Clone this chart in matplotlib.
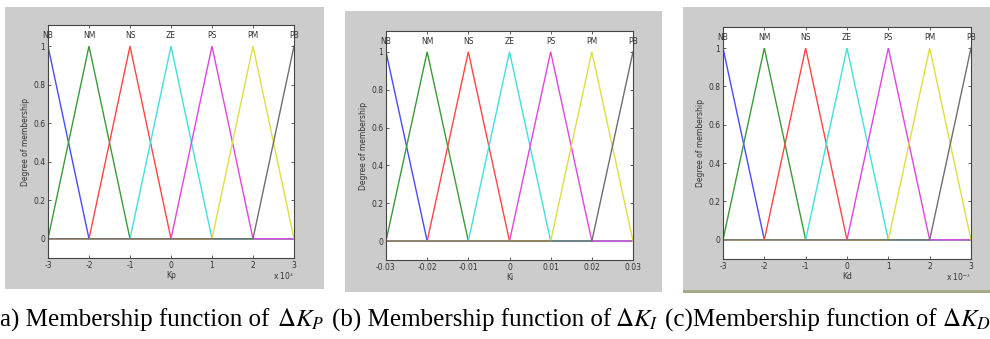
import matplotlib
matplotlib.use('Agg')
import matplotlib.pyplot as plt
from matplotlib.patches import Rectangle
import numpy as np

# membership function names and peak positions for each gain
mf_names = ['NB', 'NM', 'NS', 'ZE', 'PS', 'PM', 'PB']
kp_peaks = [-3, -2, -1, 0, 1, 2, 3]            # x 10^4
ki_peaks = [-0.03, -0.02, -0.01, 0, 0.01, 0.02, 0.03]
kd_peaks = [-3, -2, -1, 0, 1, 2, 3]            # x 10^-3

kp_ticks = ['-3', '-2', '-1', '0', '1', '2', '3']
ki_ticks = ['-0.03', '-0.02', '-0.01', '0', '0.01', '0.02', '0.03']
kd_ticks = ['-3', '-2', '-1', '0', '1', '2', '3']

mf_colors = ['#4a4aff', '#3a9a3a', '#ff4545', '#45dede',
             '#e045e0', '#dede45', '#6e6e6e']

W, H = 990, 339
fig = plt.figure(figsize=(W / 100, H / 100), dpi=100)
fig.patch.set_facecolor('white')
plt.rcParams['mathtext.fontset'] = 'stix'


def px_rect(x0, y0, x1, y1):
    '''pixel box (top-left origin) -> figure fraction rect'''
    return [x0 / W, 1 - y1 / H, (x1 - x0) / W, (y1 - y0) / H]


def add_box(x0, y0, x1, y1, color):
    r = px_rect(x0, y0, x1, y1)
    fig.patches.append(Rectangle((r[0], r[1]), r[2], r[3],
                                 transform=fig.transFigure,
                                 facecolor=color, edgecolor='none',
                                 zorder=-5))


def draw_panel(bg, box, peaks, ticks, xlabel, expo):
    add_box(*bg, '#cccccc')
    ax = fig.add_axes(px_rect(*box))
    ax.set_facecolor('white')
    lo, hi = peaks[0], peaks[-1]
    step = peaks[1] - peaks[0]
    for name, c, col in zip(mf_names, peaks, mf_colors):
        xs = [lo] + [p for p in (c - step, c, c + step) if lo <= p <= hi] + [hi]
        xs = sorted(set(xs))
        ys = np.interp(xs, [c - step, c, c + step], [0, 1, 0])
        ax.plot(xs, ys, color=col, lw=1.0, solid_joinstyle='miter')
        ax.text(c, 1.057, name, ha='center', va='center', fontsize=5.5,
                color='#333333')
    ax.set_xlim(lo, hi)
    ax.set_ylim(-0.1, 1.11)
    ax.set_xticks(peaks)
    ax.set_xticklabels(ticks)
    ax.set_yticks([0, 0.2, 0.4, 0.6, 0.8, 1])
    ax.set_yticklabels(['0', '0.2', '0.4', '0.6', '0.8', '1'])
    ax.tick_params(direction='in', length=2.5, width=0.6, labelsize=5.5,
                   colors='#444444', labelcolor='#333333',
                   top=True, right=True, pad=2)
    for s in ax.spines.values():
        s.set_color('#444444')
        s.set_linewidth(0.8)
    ax.set_xlabel(xlabel, fontsize=5.5, color='#333333', labelpad=1)
    ax.set_ylabel('Degree of membership', fontsize=5.5, color='#333333',
                  labelpad=2)
    if expo:
        ax.text(1.0, -0.055, expo, transform=ax.transAxes, ha='right',
                va='top', fontsize=5.5, color='#333333')
    return ax


draw_panel((5, 7, 324, 289), (48, 25, 294, 258), kp_peaks, kp_ticks,
           'Kp', r'x 10$^{4}$')
draw_panel((345, 11, 662, 292), (386, 31, 633, 260), ki_peaks, ki_ticks,
           'Ki', None)
draw_panel((683, 7, 990, 290), (723, 27, 971, 259), kd_peaks, kd_ticks,
           'Kd', r'x 10$^{-3}$')

# olive rule under the third panel
add_box(683, 290, 990, 293, '#a3ab86')

# caption
cap = dict(fontsize=18, family='Liberation Serif', color='black',
           va='baseline')
cy = 1 - 327 / H
fig.text(0.5 / W, cy, 'a) Membership function of', **cap)
fig.text(277 / W, cy, r'$\Delta K_P$', **cap)
fig.text(332 / W, cy, '(b) Membership function of', **cap)
fig.text(615 / W, cy, r'$\Delta K_I$', **cap)
fig.text(665 / W, cy, '(c)Membership function of', **cap)
fig.text(942 / W, cy, r'$\Delta K_D$', **cap)

fig.savefig('out.png', dpi=100)
